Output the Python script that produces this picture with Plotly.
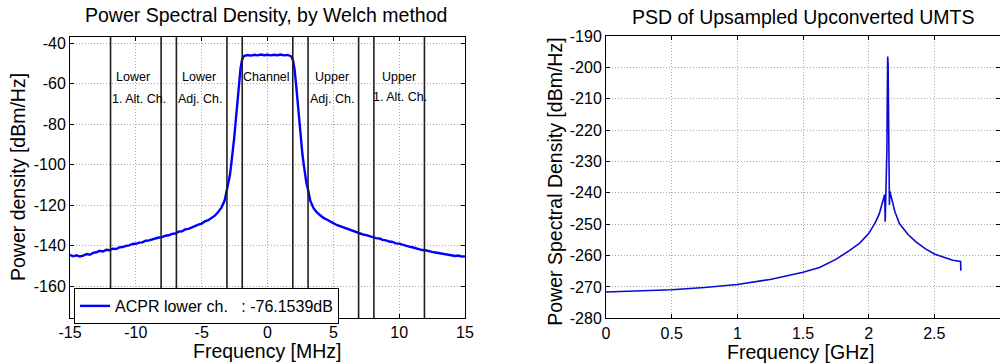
import plotly.graph_objects as go

# ---------------- Left panel data (Welch PSD) ----------------
psd_freq_mhz = [
    -15.00, -14.75, -14.50, -14.25, -14.00, -13.75, -13.50, -13.25, -13.00, -12.75,
    -12.50, -12.25, -12.00, -11.75, -11.50, -11.25, -11.00, -10.75, -10.50, -10.25,
    -10.00, -9.75, -9.50, -9.25, -9.00, -8.75, -8.50, -8.25, -8.00, -7.75,
    -7.50, -7.25, -7.00, -6.75, -6.50, -6.25, -6.00, -5.75, -5.50, -5.25,
    -5.00, -4.75, -4.50, -4.25, -4.00, -3.75, -3.50, -3.25,
    -3.10, -2.95, -2.85, -2.75, -2.65, -2.55, -2.45, -2.35, -2.25, -2.15, -2.05, -1.95, -1.85, -1.75,
    -1.50, -1.25, -1.00, -0.75, -0.50, -0.25, 0.00, 0.25, 0.50, 0.75, 1.00, 1.25, 1.50, 1.75,
    1.85, 1.95, 2.05, 2.15, 2.25, 2.35, 2.45, 2.55, 2.65, 2.75, 2.85, 2.95, 3.10, 3.25,
    3.50, 3.75, 4.00, 4.25, 4.50, 4.75, 5.00, 5.25, 5.50, 5.75,
    6.00, 6.25, 6.50, 6.75, 7.00, 7.25, 7.50, 7.75, 8.00, 8.25,
    8.50, 8.75, 9.00, 9.25, 9.50, 9.75, 10.00, 10.25, 10.50, 10.75,
    11.00, 11.25, 11.50, 11.75, 12.00, 12.25, 12.50, 12.75, 13.00, 13.25,
    13.50, 13.75, 14.00, 14.25, 14.50, 14.75, 15.00,
]
psd_dbm_hz = [
    -144.6, -145.3, -144.8, -145.4, -145.0, -144.2, -144.5, -143.6, -143.3, -142.6,
    -142.9, -142.1, -142.3, -141.5, -141.7, -140.9, -140.7, -140.1, -139.9, -139.2,
    -139.1, -138.5, -138.4, -137.6, -137.4, -136.9, -136.7, -136.0, -135.8, -135.1,
    -134.9, -134.2, -134.0, -133.1, -132.9, -132.0, -131.7, -130.9, -130.5, -129.6,
    -129.1, -128.0, -127.4, -126.1, -125.2, -123.4, -121.2, -117.6,
    -112.8, -108.5, -105.0, -99.5, -94.5, -88.0, -81.0, -74.0, -66.5, -58.5, -52.5, -48.6, -46.8, -46.1,
    -45.7, -46.0, -45.6, -45.9, -45.5, -45.8, -45.6, -45.9, -45.6, -45.8, -45.5, -45.9, -45.7, -46.2,
    -46.9, -48.8, -52.6, -58.8, -66.8, -74.2, -81.3, -88.2, -94.7, -99.8, -105.2, -108.8, -113.0, -117.8,
    -121.5, -123.6, -125.0, -126.3, -127.1, -128.2, -128.9, -129.8, -130.4, -131.1,
    -131.6, -132.3, -132.8, -133.5, -133.8, -134.5, -134.8, -135.4, -135.7, -136.3,
    -136.5, -137.2, -137.4, -138.0, -138.2, -138.9, -139.0, -139.6, -139.9, -140.5,
    -140.8, -141.3, -141.5, -142.2, -142.3, -142.8, -143.1, -143.4, -143.7, -143.9,
    -144.3, -144.5, -144.6, -145.1, -144.9, -145.4, -145.3,
]
channel_edges_mhz = [-11.92, -8.08, -6.92, -3.08, -1.92, 1.92, 3.08, 6.92, 8.08, 11.92]
band_label_text = ["Lower", "1. Alt. Ch.", "Lower", "Adj. Ch.", "Channel",
                   "Upper", "Adj. Ch.", "Upper", "1. Alt. Ch."]
band_label_x = [-10.2, -9.75, -5.2, -5.15, -0.1, 4.9, 4.9, 9.97, 10.1]
band_label_y = [-56.7, -67.7, -56.7, -67.7, -56.5, -56.5, -67.7, -56.5, -66.4]
legend_name = "ACPR lower ch.\u00a0\u00a0\u00a0: -76.1539dB"

left_xticks = [-15, -10, -5, 0, 5, 10, 15]
left_xticktext = ["-15", "-10", "-5", "0", "5", "10", "15"]
left_yticks = [-160, -140, -120, -100, -80, -60, -40]
left_yticktext = ["-160", "-140", "-120", "-100", "-80", "-60", "-40"]

# ---------------- Right panel data (upconverted UMTS PSD) ----------------
umts_freq_ghz = [
    0.0, 0.1, 0.25, 0.5, 0.75, 1.0, 1.25, 1.5, 1.626, 1.75, 1.85, 1.93, 2.0, 2.05, 2.08,
    2.10, 2.112, 2.122, 2.126, 2.13, 2.136, 2.139, 2.142, 2.145, 2.148, 2.150, 2.152,
    2.155, 2.158, 2.161, 2.171, 2.2, 2.234, 2.3, 2.36, 2.43, 2.5, 2.57, 2.64, 2.70, 2.702,
]
umts_psd_dbm_hz = [
    -271.6, -271.5, -271.3, -270.9, -270.2, -269.2, -267.6, -265.3, -263.8, -261.2, -258.5,
    -256.1, -253.0, -249.5, -246.8, -243.8, -241.5, -240.5, -249.2, -242.0, -233.5, -226.0,
    -208.0, -196.5, -199.0, -208.0, -225.0, -238.0, -243.9, -239.5, -241.3, -246.0, -249.8,
    -253.3, -255.6, -257.8, -259.5, -260.6, -261.5, -261.9, -264.8,
]
right_xticks = [0, 0.5, 1, 1.5, 2, 2.5, 3]
right_xticktext = ["0", "0.5", "1", "1.5", "2", "2.5", "3"]
right_yticks = [-280, -270, -260, -250, -240, -230, -220, -210, -200, -190]
right_yticktext = ["-280", "-270", "-260", "-250", "-240", "-230", "-220", "-210", "-200", "-190"]

FONT = "Liberation Sans, Arial, Helvetica, sans-serif"

fig = go.Figure()
fig.add_trace(go.Scatter(
    x=psd_freq_mhz, y=psd_dbm_hz, mode="lines", name=legend_name,
    line=dict(color="#0000ff", width=2.4), xaxis="x", yaxis="y", showlegend=True,
))
fig.add_trace(go.Scatter(
    x=umts_freq_ghz, y=umts_psd_dbm_hz, mode="lines", name="UMTS",
    line=dict(color="#0a0ad0", width=1.6), xaxis="x2", yaxis="y2", showlegend=False,
))

for edge in channel_edges_mhz:
    fig.add_shape(type="line", xref="x", yref="y domain", x0=edge, x1=edge, y0=0, y1=1,
                  line=dict(color="#1e1e1e", width=1.6), layer="above")

for txt, bx, by in zip(band_label_text, band_label_x, band_label_y):
    fig.add_annotation(text=txt, x=bx, y=by, xref="x", yref="y", showarrow=False,
                       font=dict(family=FONT, size=12.5, color="#000000"),
                       xanchor="center", yanchor="middle")

axis_common = dict(
    showgrid=True, gridcolor="#a8a8a8", griddash="1px,2px", gridwidth=1,
    showline=True, linecolor="#000000", linewidth=1, mirror="ticks",
    ticks="inside", ticklen=4, tickcolor="#000000",
    zeroline=False, automargin=False,
    tickfont=dict(family=FONT, size=16, color="#000000"),
)

fig.update_layout(
    template="none",
    width=1000, height=364,
    margin=dict(l=0, r=0, t=0, b=0),
    paper_bgcolor="white", plot_bgcolor="white",
    font=dict(family=FONT, color="#000000"),
    xaxis=dict(domain=[0.07, 0.465], range=[-15, 15], tickvals=left_xticks,
               ticktext=left_xticktext, anchor="y", **axis_common),
    yaxis=dict(domain=[0.1264, 0.899], range=[-175.8, -36.7], tickvals=left_yticks,
               ticktext=left_yticktext, anchor="x", **axis_common),
    xaxis2=dict(domain=[0.606, 1.0], range=[0, 3], tickvals=right_xticks,
                ticktext=right_xticktext, anchor="y2", **axis_common),
    yaxis2=dict(domain=[0.1255, 0.901], range=[-280, -190], tickvals=right_yticks,
                ticktext=right_yticktext, anchor="x2", **axis_common),
    showlegend=True,
    legend=dict(x=0.074, y=0.2088, xanchor="left", yanchor="top",
                bgcolor="white", bordercolor="#000000", borderwidth=1,
                font=dict(family=FONT, size=16, color="#000000")),
)

titles = [
    ("Power Spectral Density, by Welch method", 0.266, 0.9588, 0),
    ("Frequency [MHz]", 0.2667, 0.035, 0),
    ("Power density [dBm/Hz]", 0.018, 0.5137, -90),
    ("PSD of Upsampled Upconverted UMTS", 0.8025, 0.954, 0),
    ("Frequency [GHz]", 0.800, 0.033, 0),
    ("Power Spectral Density [dBm/Hz]", 0.555, 0.5008, -90),
]
for txt, px, py, ang in titles:
    fig.add_annotation(text=txt, x=px, y=py, xref="paper", yref="paper", showarrow=False,
                       textangle=ang, xanchor="center", yanchor="middle",
                       font=dict(family=FONT, size=19.5, color="#000000"))

fig.write_html("out.html")
